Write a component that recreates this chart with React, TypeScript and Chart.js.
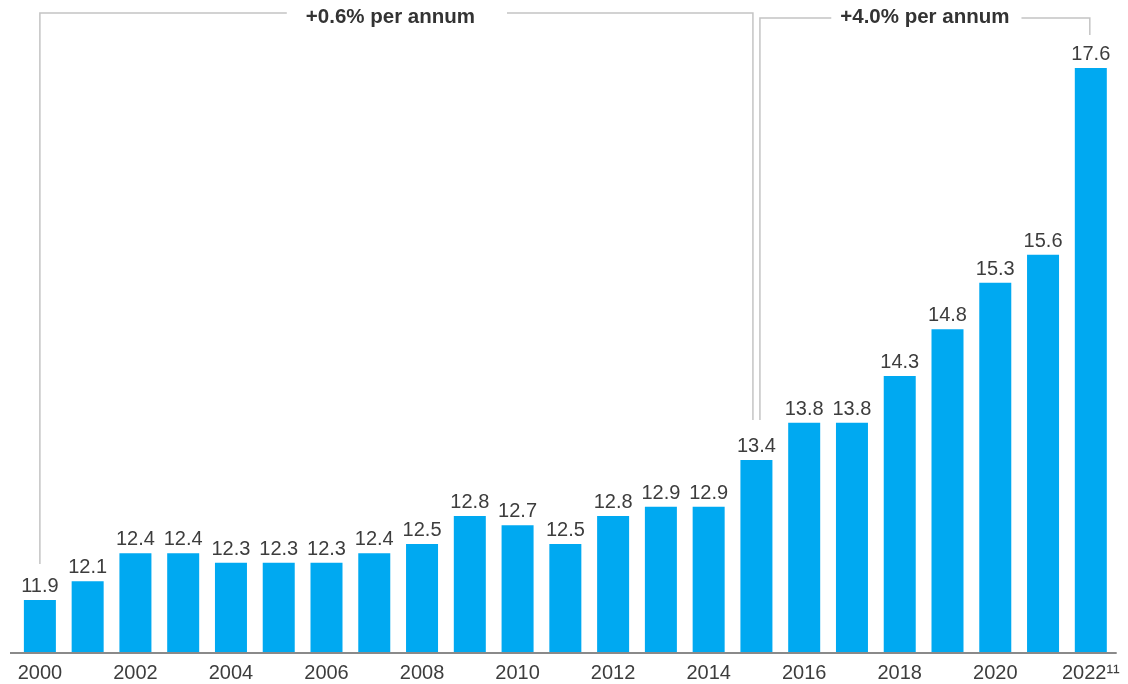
import React, { useEffect, useRef } from "react";
import { Chart, registerables } from "chart.js";

Chart.register(...registerables);

const years = [
  "2000", "2001", "2002", "2003", "2004", "2005", "2006", "2007", "2008", "2009", "2010", "2011",
  "2012", "2013", "2014", "2015", "2016", "2017", "2018", "2019", "2020", "2021", "2022",
];
const values = [
  11.9, 12.1, 12.4, 12.4, 12.3, 12.3, 12.3, 12.4, 12.5, 12.8, 12.7, 12.5,
  12.8, 12.9, 12.9, 13.4, 13.8, 13.8, 14.3, 14.8, 15.3, 15.6, 17.6,
];
const footnotes: Record<string, string> = { "2022": "¹¹" };
const bracketLabels = ["+0.6% per annum", "+4.0% per annum"];
const bracketSpans = [
  [0, 15],
  [15, 22],
];

const FONT = "'Liberation Sans', Arial, sans-serif";
const TEXT = "#3d3d3d";
const BAR = "#00a9f1";
const LINE = "#c4c4c4";

const labelsPlugin = {
  id: "valueLabels",
  afterDatasetsDraw(chart: any) {
    const ctx = chart.ctx;
    const meta = chart.getDatasetMeta(0);
    ctx.save();
    ctx.font = `20px ${FONT}`;
    ctx.fillStyle = TEXT;
    ctx.textAlign = "center";
    ctx.textBaseline = "alphabetic";
    meta.data.forEach((bar: any, i: number) => {
      ctx.fillText(values[i].toFixed(1), bar.x, bar.y - 8);
    });
    ctx.restore();
  },
};

const axisPlugin = {
  id: "axisLine",
  afterDatasetsDraw(chart: any) {
    const { ctx, chartArea } = chart;
    ctx.save();
    ctx.strokeStyle = "#8a8a8a";
    ctx.lineWidth = 2;
    ctx.beginPath();
    ctx.moveTo(chartArea.left - 6, chartArea.bottom);
    ctx.lineTo(chartArea.right + 2, chartArea.bottom);
    ctx.stroke();
    ctx.restore();
  },
};

const bracketPlugin = {
  id: "brackets",
  afterDraw(chart: any) {
    const ctx = chart.ctx;
    const bars = chart.getDatasetMeta(0).data;
    const tops = [13, 18];
    const gaps = [
      [19, 32],
      [9, 12],
    ];
    ctx.save();
    ctx.strokeStyle = LINE;
    ctx.lineWidth = 1.5;
    ctx.font = `bold 20.5px ${FONT}`;
    ctx.fillStyle = "#333333";
    ctx.textAlign = "center";
    ctx.textBaseline = "middle";
    bracketSpans.forEach(([a, b], k) => {
      const barA = bars[a];
      const barB = bars[b];
      const xA = k === 0 ? barA.x : barA.x + 3.5;
      const xB = k === 0 ? barB.x - 3.5 : barB.x - 1;
      const yA = barA.y - (k === 0 ? 36 : 40);
      const yB = barB.y - (k === 0 ? 40 : 33);
      const top = tops[k];
      const label = bracketLabels[k];
      const w = ctx.measureText(label).width;
      const mid = (xA + xB) / 2 - (k === 0 ? 6 : 0);
      ctx.beginPath();
      ctx.moveTo(xA, yA);
      ctx.lineTo(xA, top);
      ctx.lineTo(mid - w / 2 - gaps[k][0], top);
      ctx.moveTo(mid + w / 2 + gaps[k][1], top);
      ctx.lineTo(xB, top);
      ctx.lineTo(xB, yB);
      ctx.stroke();
      ctx.fillText(label, mid, 17.5);
    });
    ctx.restore();
  },
};

export default function App() {
  const ref = useRef<HTMLCanvasElement>(null);
  useEffect(() => {
    if (!ref.current) return;
    const chart = new Chart(ref.current, {
      type: "bar",
      data: {
        labels: years,
        datasets: [
          {
            data: values,
            backgroundColor: BAR,
            borderWidth: 0,
            barPercentage: 0.67,
            categoryPercentage: 1,
          },
        ],
      },
      options: {
        animation: false,
        responsive: true,
        maintainAspectRatio: false,
        layout: { padding: { left: 16, right: 13, top: 68, bottom: -9 } },
        plugins: { legend: { display: false }, tooltip: { enabled: false } },
        scales: {
          y: { display: false, min: 11.332, max: 17.6 },
          x: {
            grid: { display: false, drawTicks: false },
            border: { display: false },
            ticks: {
              autoSkip: false,
              maxRotation: 0,
              padding: 8,
              color: TEXT,
              font: { family: FONT, size: 20, lineHeight: 1.2 },
              callback: (_v: any, i: number) =>
                i % 2 === 0 ? years[i] + (footnotes[years[i]] || "") : null,
            },
          },
        },
      },
      plugins: [labelsPlugin, axisPlugin, bracketPlugin],
    });
    return () => chart.destroy();
  }, []);
  return (
    <div style={{ position: "absolute", left: 0, top: 0, width: 1128, height: 684, background: "#fff" }}>
      <canvas ref={ref} />
    </div>
  );
}
